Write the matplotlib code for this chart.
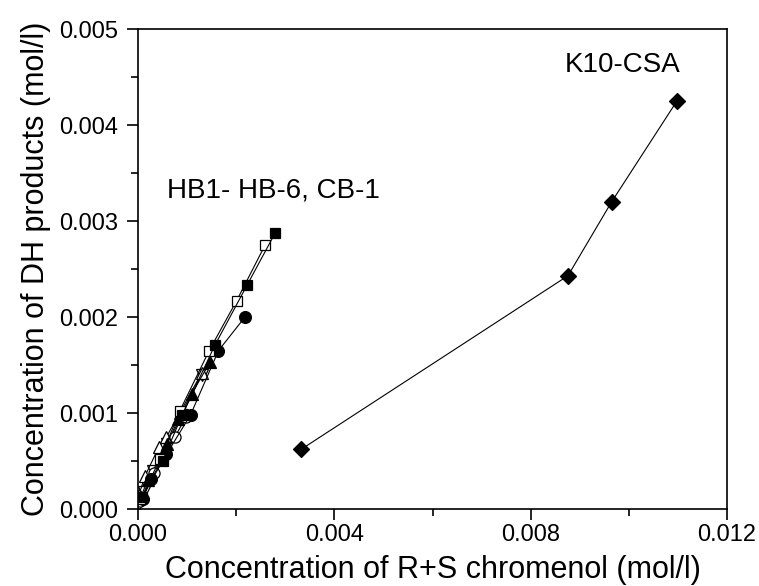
import matplotlib
matplotlib.use("Agg")
import matplotlib.pyplot as plt
from matplotlib.ticker import MultipleLocator, FormatStrFormatter

plt.rcParams['font.family'] = ['Liberation Sans', 'DejaVu Sans']

# ---------- Data ----------
# K10-CSA
k10_x = [0.00332, 0.00876, 0.00965, 0.01098]
k10_y = [0.00062, 0.00243, 0.00320, 0.00425]

# HB-1 .. HB-6, CB-1 (cluster near origin)
hb1_x = [0.00008, 0.00050, 0.00090, 0.00157, 0.00222, 0.00280]
hb1_y = [0.00012, 0.00050, 0.00098, 0.00171, 0.00233, 0.00288]

hb2_x = [0.00005, 0.00045, 0.00085, 0.00145, 0.00201, 0.00259]
hb2_y = [0.00010, 0.00052, 0.00102, 0.00165, 0.00217, 0.00275]

hb3_x = [0.00010, 0.00026, 0.00058, 0.00107, 0.00164, 0.00218]
hb3_y = [0.00010, 0.00031, 0.00057, 0.00098, 0.00165, 0.00200]

hb4_x = [0.00005, 0.00033, 0.00075, 0.00098]
hb4_y = [0.00008, 0.00038, 0.00075, 0.00096]

hb5_x = [0.00005, 0.00020, 0.00060, 0.00082, 0.00109, 0.00147]
hb5_y = [0.00012, 0.00030, 0.00068, 0.00094, 0.00120, 0.00153]

hb6_x = [0.00002, 0.00014, 0.00043, 0.00058, 0.00085, 0.00130]
hb6_y = [0.00015, 0.00034, 0.00065, 0.00075, 0.00100, 0.00142]

cb1_x = [0.00003, 0.00012, 0.00030, 0.00060, 0.00090, 0.00130]
cb1_y = [0.00005, 0.00018, 0.00040, 0.00068, 0.00098, 0.00140]

# ---------- Plot ----------
fig = plt.figure(figsize=(7.59, 5.86), dpi=100)
ax = fig.add_axes([138 / 759, 1 - 509 / 586, (727 - 138) / 759, (509 - 29) / 586])

line_kw = dict(color='black', lw=0.8, mec='black', mew=0.9)
ax.plot(cb1_x, cb1_y, marker='v', mfc='white', ms=8, **line_kw)
ax.plot(hb6_x, hb6_y, marker='^', mfc='white', ms=8, **line_kw)
ax.plot(hb5_x, hb5_y, marker='^', mfc='black', ms=8, **line_kw)
ax.plot(hb4_x, hb4_y, marker='o', mfc='white', ms=8, **line_kw)
ax.plot(hb3_x, hb3_y, marker='o', mfc='black', ms=8.5, **line_kw)
ax.plot(hb2_x, hb2_y, marker='s', mfc='white', ms=7.5, **line_kw)
ax.plot(hb1_x, hb1_y, marker='s', mfc='black', ms=7.5, **line_kw)
ax.plot(k10_x, k10_y, marker='D', mfc='black', ms=8.5, **line_kw)

ax.text(0.0087, 0.00455, "K10-CSA", fontsize=20)
ax.text(0.00059, 0.00324, "HB1- HB-6, CB-1", fontsize=20)

ax.set_xlim(0, 0.012)
ax.set_ylim(0, 0.005)
ax.xaxis.set_major_locator(MultipleLocator(0.004))
ax.xaxis.set_minor_locator(MultipleLocator(0.002))
ax.yaxis.set_major_locator(MultipleLocator(0.001))
ax.yaxis.set_minor_locator(MultipleLocator(0.0005))
ax.xaxis.set_major_formatter(FormatStrFormatter('%.3f'))
ax.yaxis.set_major_formatter(FormatStrFormatter('%.3f'))
ax.tick_params(which='both', direction='out', top=False, right=False, width=1.2)
ax.tick_params(which='major', length=8, labelsize=17)
ax.tick_params(axis='y', which='major', pad=6)
ax.tick_params(axis='x', which='major', pad=3)
ax.tick_params(which='minor', length=5)
for s in ax.spines.values():
    s.set_linewidth(1.2)

ax.set_xlabel("Concentration of R+S chromenol (mol/l)", fontsize=22, labelpad=6)
ax.set_ylabel("Concentration of DH products (mol/l)", fontsize=22, labelpad=6)

fig.savefig("out.png", dpi=100)
